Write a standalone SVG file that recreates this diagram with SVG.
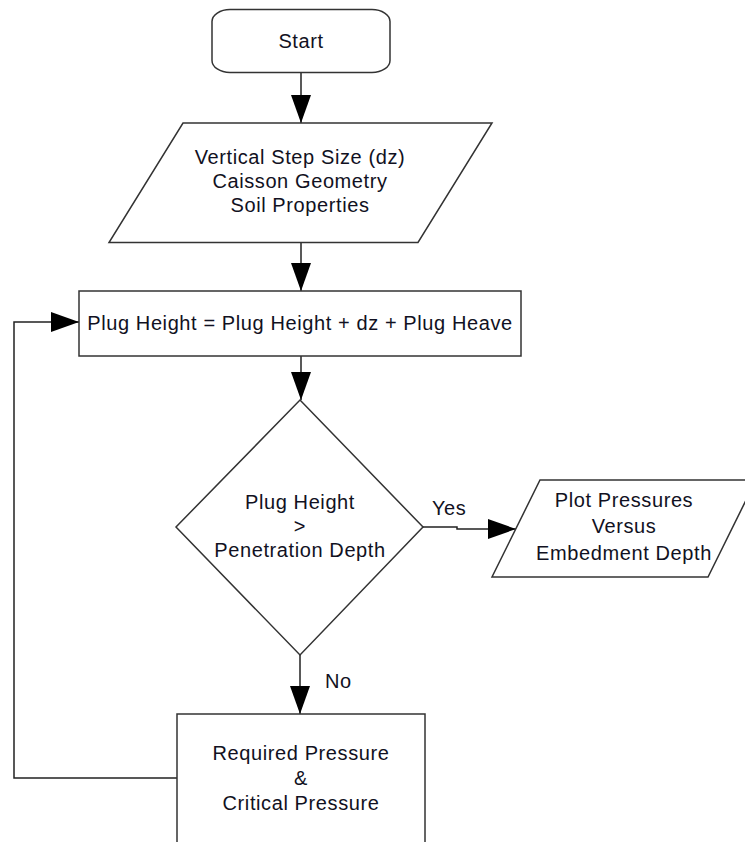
<svg xmlns="http://www.w3.org/2000/svg" width="745" height="842" viewBox="0 0 745 842">
<style>
.shape{fill:#ffffff;stroke:#333333;stroke-width:1.5}
.conn{fill:none;stroke:#222222;stroke-width:1.5}
text{font-family:"Liberation Sans",Arial,sans-serif;font-size:20px;letter-spacing:0.6px;fill:#111122;text-anchor:middle}
.lbl{text-anchor:start}
</style>
<defs>
<marker id="arr" markerUnits="userSpaceOnUse" viewBox="0 0 28 20" refX="28" refY="10" markerWidth="28" markerHeight="20" orient="auto">
<path d="M0 0 L28 10 L0 20 Z" fill="#000000"/>
</marker>
</defs>
<rect width="745" height="842" fill="#ffffff"/>
<g id="connectors">
<path class="conn" d="M301 73 V123" marker-end="url(#arr)"/>
<path class="conn" d="M301 243 V291" marker-end="url(#arr)"/>
<path class="conn" d="M301 356 V400" marker-end="url(#arr)"/>
<path class="conn" d="M300 655 V714" marker-end="url(#arr)"/>
<path class="conn" d="M423 527 H457 V529 H516" marker-end="url(#arr)"/>
<path class="conn" d="M177 778 H14 V322 H79" marker-end="url(#arr)"/>
<text class="lbl" x="432" y="515">Yes</text>
<text class="lbl" x="325" y="688">No</text>
</g>
<g id="start">
<rect class="shape" x="212" y="9.5" width="178" height="63" rx="18" ry="12"/>
<text x="301" y="48">Start</text>
</g>
<g id="inputs">
<path class="shape" d="M183 123 H492 L418 242.5 H109 Z"/>
<text x="300" y="164">Vertical Step Size (dz)</text>
<text x="300" y="188">Caisson Geometry</text>
<text x="300" y="212">Soil Properties</text>
</g>
<g id="update">
<rect class="shape" x="79" y="291" width="442" height="65"/>
<text x="300" y="330">Plug Height = Plug Height + dz + Plug Heave</text>
</g>
<g id="decision">
<path class="shape" d="M300 400 L423 527 L300 655 L176 527 Z"/>
<text x="300" y="509">Plug Height</text>
<text x="300" y="533">&gt;</text>
<text x="300" y="557">Penetration Depth</text>
</g>
<g id="plot">
<path class="shape" d="M540 480 H756 L708 577 H492 Z"/>
<text x="624" y="507">Plot Pressures</text>
<text x="624" y="533">Versus</text>
<text x="624" y="560">Embedment Depth</text>
</g>
<g id="pressure">
<rect class="shape" x="177" y="714" width="248" height="140"/>
<text x="301" y="760">Required Pressure</text>
<text x="301" y="785">&amp;</text>
<text x="301" y="810">Critical Pressure</text>
</g>
</svg>
